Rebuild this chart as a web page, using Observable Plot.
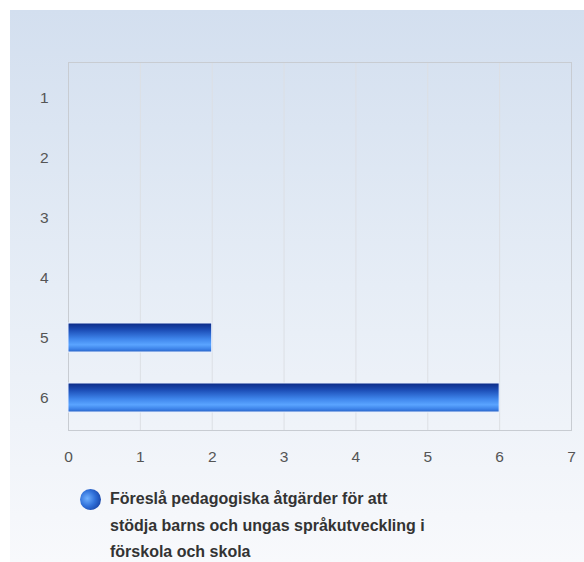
<!DOCTYPE html>
<html><head><meta charset="utf-8">
<script src="https://cdn.jsdelivr.net/npm/d3@7"></script>
<script src="https://cdn.jsdelivr.net/npm/@observablehq/plot@0.6"></script>
<style>
html,body{margin:0;padding:0;background:#fff;}
#page{position:relative;width:584px;height:562px;overflow:hidden;font-family:"Liberation Sans",Arial,sans-serif;}
#panel{position:absolute;left:10px;top:10px;width:574px;height:552px;background:linear-gradient(to bottom,#d3dfef 0%,#e6edf6 50%,#f8f9fc 100%);}
#chart{position:absolute;left:0;top:0;}
#chart svg text{font-size:15.5px !important;font-family:"Liberation Sans",Arial,sans-serif !important;fill:#555;}
#legend{position:absolute;left:80px;top:486px;display:flex;align-items:flex-start;}
#legend .dot{width:21px;height:21px;border-radius:50%;background:radial-gradient(circle at 35% 45%,#6fb0ff 0%,#2f6fd8 45%,#0d2e8c 100%);margin-right:9px;margin-top:3px;flex:none;}
#legend .txt{font-weight:bold;font-size:16px;color:#333;line-height:26.5px;width:320px;}
</style></head>
<body><div id="page"><div id="panel"></div><div id="chart"></div>
<div id="legend"><div class="dot"></div><div class="txt">Föreslå pedagogiska åtgärder för att stödja barns och ungas språkutveckling i förskola och skola</div></div>
</div>
<script>
const categories = ["1","2","3","4","5","6"];
const values = [0,0,0,0,2,6];
const xTicks = [0,1,2,3,4,5,6,7];
const data = categories.map((c,i)=>({cat:c,value:values[i]}));

const defs = () => {
  const svg = d3.create("svg:g");
  const g = svg.append("defs").append("linearGradient").attr("id","barGrad").attr("x1",0).attr("y1",0).attr("x2",0).attr("y2",1);
  [[0,"#0c2a85"],[0.25,"#1d4fb8"],[0.55,"#3f86ec"],[0.75,"#5aa4ff"],[0.9,"#3c82e8"],[1,"#2760c4"]].forEach(([o,c])=>g.append("stop").attr("offset",o).attr("stop-color",c));
  return svg.node();
};

const chart = Plot.plot({
  width:584, height:470,
  marginLeft:68, marginRight:13, marginTop:62, marginBottom:40,
  style:{background:"transparent",fontFamily:"'Liberation Sans',Arial,sans-serif",fontSize:"15px",color:"#555"},
  x:{domain:[0,7],ticks:xTicks,label:null,tickSize:0,tickPadding:20,tickFormat:d3.format("d")},
  y:{domain:categories,label:null,range:[65.5,429.1],paddingInner:0.52,paddingOuter:0.26,tickSize:0,tickPadding:20},
  marks:[
    defs,
    Plot.gridX(xTicks,{stroke:"#dcdfe4",strokeOpacity:1}),
    Plot.frame({stroke:"#c8ccd2"}),
    Plot.barX(data.filter(d=>d.value>0),{x:"value",y:"cat",fill:"url(#barGrad)",stroke:"#e8f0ff",strokeWidth:1})
  ]
});
document.getElementById("chart").appendChild(chart);
</script>
</body></html>
